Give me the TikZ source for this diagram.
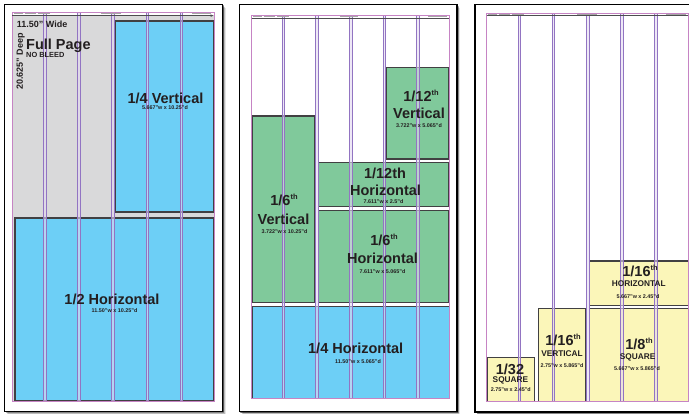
\documentclass[tikz,border=0pt]{standalone}
\usepackage{fontspec}
\setmainfont{Liberation Sans}
\usetikzlibrary{arrows.meta}
\definecolor{adblue}{HTML}{6DCFF6}
\definecolor{adgreen}{HTML}{80C99B}
\definecolor{adyellow}{HTML}{FBF6B9}
\definecolor{adgray}{HTML}{D9D9DA}
\definecolor{boxline}{HTML}{414042}
\definecolor{guide}{HTML}{9274C2}
\definecolor{gutfill}{HTML}{E3D9F0}
\definecolor{trimc}{HTML}{C684C4}
\definecolor{txt}{HTML}{231F20}
\definecolor{hdr}{HTML}{4D4D4F}
\newcommand\thsup{\raisebox{0.8ex}{\fontsize{7.5}{8}\selectfont th}}
\tikzset{
  pagebox/.style={draw=black, line width=1.1pt, fill=white},
  adbox/.style={draw=boxline, line width=1.1pt},
  guideline/.style={draw=guide, line width=0.6pt},
  gutter/.style={fill=gutfill, fill opacity=0.6},
  trimbox/.style={draw=trimc, line width=1pt},
  hdrline/.style={draw=hdr, line width=0.9pt},
  hdrtext/.style={fill=black!35},
  tx/.style={text=txt, inner sep=0pt, anchor=base},
  bigt/.style={tx, font=\fontsize{14.5}{15}\selectfont\bfseries},
  midt/.style={tx, font=\fontsize{8.3}{9}\selectfont\bfseries},
  subt/.style={tx, font=\fontsize{5.4}{6}\selectfont\bfseries},
  smallt/.style={tx, font=\fontsize{9}{10}\selectfont\bfseries},
}
\begin{document}
\begin{tikzpicture}[x=1pt,y=-1pt]
\useasboundingbox (0,0) rectangle (689,414);
\clip (0,0) rectangle (689,414);
\fill[white] (0,0) rectangle (689,414);
% ---------- page shadows ----------
\foreach \k/\op in {3.2/0.10,2.4/0.18,1.6/0.28,0.8/0.4}{
  \fill[black,opacity=\op] (4.7+\k,4.7+\k) rectangle (222.7+\k,411.3+\k);
  \fill[black,opacity=\op] (239.5+\k,4.5+\k) rectangle (457+\k,411.8+\k);
  \fill[black,opacity=\op] (475+\k,4.5+\k) rectangle (700+\k,412+\k);
}
% ---------- pages ----------
\draw[pagebox] (4.7,4.7) rectangle (222.7,411.3);
\draw[pagebox] (239.5,4.5) rectangle (457,411.8);
\draw[pagebox] (475,4.5) rectangle (700,412);

% ================= PAGE 1 =================
\fill[adgray] (12,12.3) rectangle (214,402);
\fill[white] (12,12.3) rectangle (214,15.5);
\draw[adbox, fill=adblue] (115,21) rectangle (213.5,212);
\draw[adbox, fill=adblue] (15,218) rectangle (213.5,401);
\foreach \i in {0,...,4}{
  \pgfmathsetmacro\gx{43.5+34.1*\i}
  \fill[gutter] (\gx,12.3) rectangle (\gx+2.7,402);
  \draw[guideline] (\gx,12.3) -- (\gx,402);
  \draw[guideline] (\gx+2.7,12.3) -- (\gx+2.7,402);
}
\draw[trimbox] (12,12.3) rectangle (214,402);
\draw[hdrline, -{Stealth[length=3pt,width=2.5pt]}] (12,15.6) -- (213.5,15.6);
\fill[hdrtext] (13.5,13.2) rectangle (23,14.2);
\fill[hdrtext] (25,13.2) rectangle (36,14.2);
\fill[hdrtext] (38,13.2) rectangle (50,14.2);
\fill[hdrtext] (101,13.2) rectangle (121,14.2);
\fill[hdrtext] (192,13.2) rectangle (211,14.2);

\node[smallt, anchor=base west] (wide) at (16.7,27.3) {11.50" Wide};
\node[smallt, anchor=base west, rotate=90] (deep) at (22.9,90) {20.625" Deep};
\node[tx, anchor=base west, font=\fontsize{14.5}{15}\selectfont\bfseries] (full) at (26,50) {Full Page};
\node[tx, anchor=base west, font=\fontsize{7.4}{8}\selectfont\bfseries] (nobleed) at (26,57.3) {NO BLEED};
\node[bigt] (qv) at (165.5,104) {1/4 Vertical};
\node[subt] (qvs) at (165,109.8) {5.667"w x 10.25"d};
\node[bigt] (hh) at (112,304.3) {1/2 Horizontal};
\node[subt] (hhs) at (114.5,313) {11.50"w x 10.25"d};

% ================= PAGE 2 =================
\draw[adbox, fill=adgreen] (386,67.7) rectangle (448.5,159);
\draw[adbox, fill=adgreen] (252.2,116) rectangle (315,302.3);
\draw[adbox, fill=adgreen] (318.5,162.3) rectangle (448.5,206.6);
\draw[adbox, fill=adgreen] (318.5,210.7) rectangle (448.5,302.3);
\draw[draw=boxline, line width=0.5pt, fill=adblue] (252,306) rectangle (449,398.3);
\foreach \i in {0,...,4}{
  \pgfmathsetmacro\gx{282+33.6*\i}
  \fill[gutter] (\gx,15.3) rectangle (\gx+2.7,398.3);
  \draw[guideline] (\gx,15.3) -- (\gx,398.3);
  \draw[guideline] (\gx+2.7,15.3) -- (\gx+2.7,398.3);
}
\draw[trimbox] (251.7,15.3) rectangle (449.3,398.3);
\draw[hdrline] (251.7,18.7) -- (449.3,18.7);
\fill[hdrtext] (253,16.4) rectangle (262,17.4);
\fill[hdrtext] (264,16.4) rectangle (275,17.4);
\fill[hdrtext] (277,16.4) rectangle (289,17.4);
\fill[hdrtext] (340,16.4) rectangle (358,17.4);
\fill[hdrtext] (428,16.4) rectangle (447,17.4);

\node[bigt] (tv1) at (421,101.7) {1/12\thsup};
\node[bigt] (tv2) at (419,118.3) {Vertical};
\node[subt] (tvs) at (419,127.7) {3.722"w x 5.065"d};
\node[bigt] (th1) at (385,178.3) {1/12th};
\node[bigt] (th2) at (385.5,196) {Horizontal};
\node[subt] (ths) at (383.5,203.6) {7.611"w x 2.5"d};
\node[bigt] (sv1) at (284,206) {1/6\thsup};
\node[bigt] (sv2) at (283.5,225) {Vertical};
\node[subt] (svs) at (284.5,233.3) {3.722"w x 10.25"d};
\node[bigt] (sh1) at (384,245.7) {1/6\thsup};
\node[bigt] (sh2) at (382.5,264) {Horizontal};
\node[subt] (shs) at (382.5,273.3) {7.611"w x 5.065"d};
\node[bigt] (qh) at (355.7,354) {1/4 Horizontal};
\node[subt] (qhs) at (358,364) {11.50"w x 5.065"d};

% ================= PAGE 3 =================
\draw[adbox, fill=adyellow] (487.3,357.3) rectangle (534.7,401.5);
\draw[adbox, fill=adyellow] (538.3,308.3) rectangle (585.7,401.5);
\draw[adbox, fill=adyellow] (589.3,261) rectangle (688.5,305.3);
\draw[adbox, fill=adyellow] (589.3,308.7) rectangle (688.5,401.5);
\foreach \i in {0,...,4}{
  \pgfmathsetmacro\gx{517.8+34.15*\i}
  \fill[gutter] (\gx,13.3) rectangle (\gx+2.7,402);
  \draw[guideline] (\gx,13.3) -- (\gx,402);
  \draw[guideline] (\gx+2.7,13.3) -- (\gx+2.7,402);
}
\draw[trimbox] (486.7,13.3) rectangle (688.3,402);
\draw[hdrline] (486.7,15.4) -- (688.3,15.4);
\fill[hdrtext] (488,14) rectangle (497,14.9);
\fill[hdrtext] (499,14) rectangle (510,14.9);
\fill[hdrtext] (512,14) rectangle (524,14.9);
\fill[hdrtext] (577,14) rectangle (597,14.9);
\fill[hdrtext] (666,14) rectangle (686,14.9);

\node[bigt] (sxh1) at (640,276.7) {1/16\thsup};
\node[midt] (sxh2) at (638.7,286.7) {HORIZONTAL};
\node[subt] (sxhs) at (638,299) {5.667"w x 2.45"d};
\node[bigt] (ei1) at (639,350) {1/8\thsup};
\node[midt] (ei2) at (637.7,360) {SQUARE};
\node[subt] (eis) at (637,370.7) {5.667"w x 5.865"d};
\node[bigt] (sxv1) at (563,346) {1/16\thsup};
\node[midt] (sxv2) at (562,356.7) {VERTICAL};
\node[subt] (sxvs) at (562,367.3) {2.75"w x 5.865"d};
\node[bigt] (tt1) at (510,374) {1/32};
\node[midt] (tt2) at (510.5,382.3) {SQUARE};
\node[subt] (tts) at (510.8,391.3) {2.75"w x 2.45"d};
\end{tikzpicture}
\end{document}
